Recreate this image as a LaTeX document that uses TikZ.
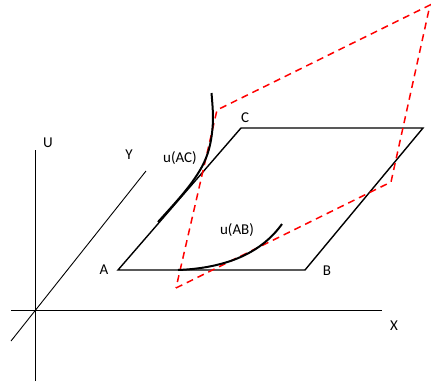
\documentclass[tikz,border=0pt]{standalone}
\usepackage{fontspec}
\setmainfont{Carlito}
\usetikzlibrary{positioning}

\begin{document}
\begin{tikzpicture}[
    x=1pt, y=-1pt,
    axis/.style={draw, line width=0.9pt},
    edge/.style={draw, line width=1.4pt},
    ucurve/.style={draw, line width=2pt},
    plane/.style={draw=red, line width=1.5pt, dash pattern=on 7pt off 5pt},
    lbl/.style={inner sep=1pt, font=\fontsize{15}{18}\selectfont}
]
    \useasboundingbox (0,0) rectangle (431,383);

    % axes
    \coordinate (o) at (35,310);
    \coordinate (utop) at (35,150);
    \coordinate (ubot) at (35,381);
    \coordinate (xl) at (11,310);
    \coordinate (xr) at (382,310);
    \coordinate (yl) at (11,341);
    \coordinate (yr) at (146,171);
    \draw[axis] (ubot) -- (utop);
    \draw[axis] (xl) -- (xr);
    \draw[axis] (yl) -- (yr);
    \node[lbl] (ulab) at (48,143) {U};
    \node[lbl] (ylab) at (129,155) {Y};
    \node[lbl] (xlab) at (394,326) {X};

    % parallelogram
    \coordinate (a) at (118,270);
    \coordinate (b) at (305,270);
    \coordinate (d) at (423,128);
    \coordinate (c) at (241,128);
    \draw[edge] (a) -- (b) -- (d) -- (c) -- cycle;
    \node[lbl] (alab) at (104,270) {A};
    \node[lbl] (blab) at (327,271) {B};
    \node[lbl] (clab) at (245,118) {C};

    % dashed plane
    \coordinate (p1) at (176,288);
    \coordinate (p2) at (391,182);
    \coordinate (p3) at (430,5);
    \coordinate (p4) at (217,110);
    \draw[plane] (p1) -- (p2) -- (p3) -- (p4) -- cycle;

    % u curves
    \draw[ucurve] plot[smooth, tension=0.6] coordinates
        {(158,222) (182,195) (197,175) (206,158) (211,140) (213,118) (211.5,93)};
    \node[lbl] (uac) at (180,158) {u(AC)};

    \coordinate (ab0) at (178,270);
    \coordinate (ab1) at (282,224);
    \draw[ucurve] (ab0) .. controls (228,268) and (262,252) .. (ab1);
    \node[lbl] (uab) at (237,230) {u(AB)};
\end{tikzpicture}
\end{document}
